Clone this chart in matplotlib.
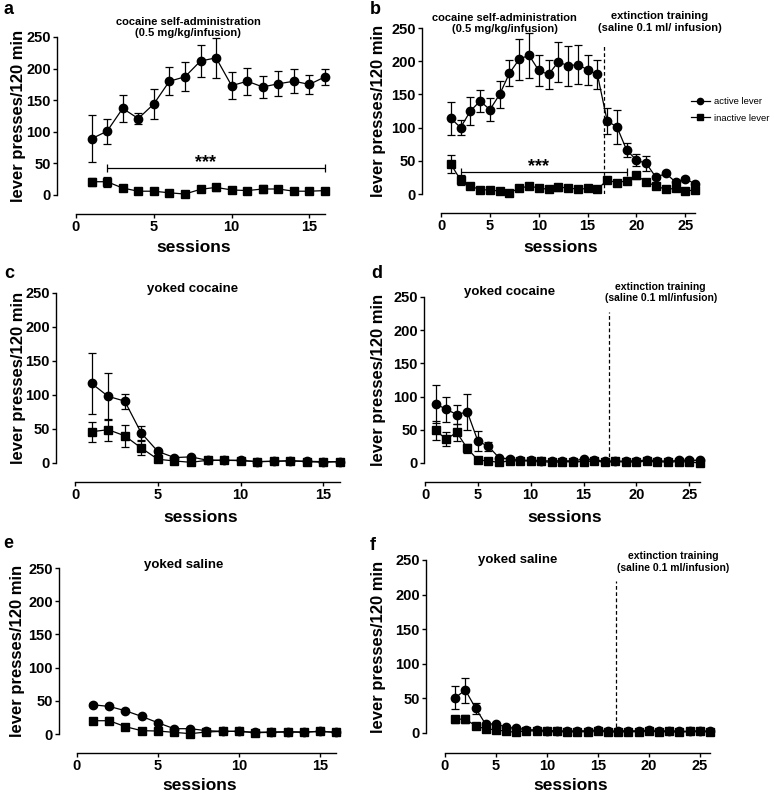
import matplotlib
matplotlib.use("Agg")
import matplotlib.pyplot as plt
from matplotlib.lines import Line2D

plt.rcParams['font.family'] = ['Liberation Sans', 'DejaVu Sans']
plt.rcParams['font.weight'] = 'bold'

# ---- data (mean, SEM) ----
sess16 = list(range(1, 17))
sess26 = list(range(1, 27))

# a: cocaine self-administration
a_act = [89, 101, 137, 121, 144, 180, 187, 212, 217, 173, 180, 171, 176, 180, 175, 187]
a_act_err = [37, 20, 21, 9, 24, 22, 23, 26, 32, 21, 21, 18, 20, 19, 15, 13]
a_inact = [21, 21, 11, 6, 6, 3.5, 1.5, 9, 12, 8, 7, 9.5, 9.5, 6, 6, 7]
a_inact_err = [6, 8, 2, 1, 1, 1, 1, 2, 5, 3, 1, 6, 4, 1, 1, 1]

# b: self-administration + extinction
b_act = [114, 100, 125, 140, 127, 150, 182, 203, 209, 186, 180, 199, 193, 195, 187, 180,
         110, 101, 66, 51, 46, 25, 31, 18, 23, 15]
b_act_err = [25, 11, 21, 16, 17, 20, 20, 31, 34, 24, 22, 30, 30, 29, 23, 22,
             19, 25, 11, 9, 11, 2, 2, 2, 2, 2]
b_inact = [45, 21, 12, 6.5, 6, 4.5, 2, 8.5, 12, 9, 7, 10, 9.5, 7, 8.5, 7,
           21, 17, 20, 28, 18, 12, 7, 8.5, 4, 6.5]
b_inact_err = [14, 7, 2, 1, 1, 1, 1, 2, 4, 2, 1, 5, 3, 1, 2, 1,
               2, 2, 2, 5, 3, 1, 1, 1, 1, 1]

# c: yoked cocaine
c_act = [117, 98, 91, 44, 17, 8, 9, 4, 4, 4, 2, 2.5, 3.5, 2.5, 2, 2]
c_act_err = [45, 35, 11, 10, 2, 1, 1, 1, 1, 1, 1, 1, 1, 1, 1, 1]
c_inact = [46, 49, 40, 22, 5.5, 3, 1, 4, 4, 3.5, 2, 2.5, 3, 2, 1, 2]
c_inact_err = [15, 16, 16, 10, 1, 1, 1, 1, 1, 1, 1, 1, 1, 1, 1, 1]

# d: yoked cocaine + extinction
d_act = [89, 81, 73, 77, 33, 25, 8, 6, 4, 4, 3.5, 3, 3.5, 3, 6, 5,
         2.5, 3, 2.5, 3.5, 4, 3.5, 2.5, 4, 4, 4]
d_act_err = [29, 19, 14, 27, 15, 7, 1, 1, 1, 1, 1, 1, 1, 1, 1, 1,
             1, 1, 1, 1, 1, 1, 1, 1, 1, 1]
d_inact = [49, 36, 46, 22, 4.5, 3, 1, 3, 3.5, 3, 2.5, 1, 2, 2, 2, 3,
           1.5, 2.5, 1.5, 2, 2.5, 2, 1.5, 2, 1.5, 0]
d_inact_err = [14, 11, 13, 7, 1, 1, 1, 1, 1, 1, 1, 1, 1, 1, 1, 1,
               1, 1, 1, 1, 1, 1, 1, 1, 1, 1]

# e: yoked saline
e_act = [44, 41.5, 35, 26.5, 17, 8, 8, 5, 4, 4, 2.5, 3, 3.5, 3, 4, 2.5]
e_act_err = [2, 2, 2, 2, 1, 1, 1, 1, 1, 1, 1, 1, 1, 1, 1, 1]
e_inact = [20, 20, 11, 5, 4.5, 2.5, 0.5, 3, 4, 4, 2, 2.5, 3, 2.5, 4, 2.5]
e_inact_err = [3, 5, 2, 1, 1, 1, 1, 1, 1, 1, 1, 1, 1, 1, 1, 1]

# f: yoked saline + extinction
f_act = [51, 62, 36, 12.5, 13.5, 8, 7, 5, 4.3, 3.4, 3.4, 2.4, 3.4, 3, 4.3, 2.4,
         3, 3.4, 3, 3.8, 2.4, 3.4, 2.4, 2.4, 3, 2.4]
f_act_err = [17, 18, 8, 2, 1, 1, 1, 1, 1, 1, 1, 1, 1, 1, 1, 1,
             1, 1, 1, 1, 1, 1, 1, 1, 1, 1]
f_inact = [20, 20, 10.5, 5.8, 4.8, 2.4, 1, 3.4, 3, 2.4, 2.4, 2, 2, 2, 3.4, 1.4,
           2, 2, 2, 3, 2, 2.4, 1, 2.4, 2.4, 2]
f_inact_err = [5, 6, 2, 1, 1, 1, 1, 1, 1, 1, 1, 1, 1, 1, 1, 1,
               1, 1, 1, 1, 1, 1, 1, 1, 1, 1]

W, H = 774, 796
fig = plt.figure(figsize=(W / 100, H / 100), dpi=100)


def make_axes(L, R, T, B, xlim, xmax, gap, ylab_x, xlab_y):
    # box given in pixels, origin top-left
    ax = fig.add_axes([L / W, 1 - B / H, (R - L) / W, (B - T) / H])
    ax.set_xlim(*xlim)
    ax.set_ylim(0, 250)
    for s in ['top', 'right']:
        ax.spines[s].set_visible(False)
    ax.spines['left'].set_bounds(0, 250)
    ax.spines['bottom'].set_position(('outward', gap * 0.72))
    ax.spines['bottom'].set_bounds(0, xmax)
    for s in ['left', 'bottom']:
        ax.spines[s].set_linewidth(1.0)
    ax.set_yticks([0, 50, 100, 150, 200, 250])
    ax.set_xticks(list(range(0, xmax + 1, 5)))
    ax.tick_params(labelsize=10.5, width=1.0, length=3, pad=1.5)
    plt.setp(ax.get_xticklabels() + ax.get_yticklabels(), fontweight='bold')
    ax.set_ylabel('lever presses/120 min', fontsize=12, fontweight='bold', va='center')
    ax.set_xlabel('sessions', fontsize=12.5, fontweight='bold', va='center')
    ax.yaxis.set_label_coords((ylab_x - L) / (R - L), 0.5)
    ax.xaxis.set_label_coords(0.5, -(xlab_y - B) / (B - T))
    return ax


def draw(ax, x, act, act_err, inact, inact_err):
    kw = dict(color='black', lw=0.9, elinewidth=0.9, capsize=3, capthick=0.9,
              clip_on=False)
    ax.errorbar(x, inact, yerr=inact_err, fmt='-s', ms=5.5, **kw)
    ax.errorbar(x, act, yerr=act_err, fmt='-o', ms=6, **kw)


def sig_bracket(ax, x0, x1, y, xt):
    ax.hlines(y, x0, x1, color='black', lw=0.9)
    ax.vlines([x0, x1], y - 6, y + 6, color='black', lw=0.9)
    ax.text(xt, y - 5, '***', ha='center', va='bottom', fontsize=13,
            fontweight='bold')


def ext_line(ax, x, top):
    ax.vlines(x, 0, top, color='black', lw=0.9, linestyles=(0, (3, 2)))


# panel boxes (pixels): L, R, T, B, xlim, last session, x-axis gap
boxes = {
    'a': (57, 330, 37, 195, (-1.22, 16.32), 16, 19),
    'b': (422, 700, 28, 194, (-1.95, 26.5), 26, 19),
    'c': (56, 345, 293, 463, (-1.15, 16.3), 16, 19),
    'd': (424, 705, 297, 463, (-0.1, 26.5), 26, 19),
    'e': (59, 341, 568, 734, (-1.1, 16.3), 16, 19),
    'f': (426, 715, 560, 733, (-1.86, 26.5), 26, 20),
}
letter_pos = {'a': (9, 10), 'b': (375, 10), 'c': (9, 274), 'd': (377, 274),
              'e': (8, 544), 'f': (373, 545)}
xlab_y = {'a': 247, 'b': 247, 'c': 518, 'd': 518, 'e': 786, 'f': 786}

axes = {}
for k, (L, R, T, B, xl, xm, gap) in boxes.items():
    ylx = 18 if L < 300 else 378
    axes[k] = make_axes(L, R, T, B, xl, xm, gap, ylx, xlab_y[k])
    fig.text(letter_pos[k][0] / W, 1 - letter_pos[k][1] / H, k,
             fontsize=13, fontweight='bold', ha='center', va='center')

draw(axes['a'], sess16, a_act, a_act_err, a_inact, a_inact_err)
draw(axes['b'], sess26, b_act, b_act_err, b_inact, b_inact_err)
draw(axes['c'], sess16, c_act, c_act_err, c_inact, c_inact_err)
draw(axes['d'], sess26, d_act, d_act_err, d_inact, d_inact_err)
draw(axes['e'], sess16, e_act, e_act_err, e_inact, e_inact_err)
draw(axes['f'], sess26, f_act, f_act_err, f_inact, f_inact_err)

sig_bracket(axes['a'], 2, 16, 43, 8.3)
sig_bracket(axes['b'], 2, 19, 33, 10)

ext_line(axes['b'], 16.7, 223)
ext_line(axes['d'], 17.4, 227)
ext_line(axes['f'], 16.8, 219)

sa_txt = 'cocaine self-administration\n(0.5 mg/kg/infusion)'
axes['a'].text(7.2, 265, sa_txt, ha='center', va='center', fontsize=8, fontweight='bold')
axes['b'].text(6.5, 257, sa_txt, ha='center', va='center', fontsize=8, fontweight='bold')
axes['b'].text(22.4, 259, 'extinction training\n(saline 0.1 ml/ infusion)',
               ha='center', va='center', fontsize=8, fontweight='bold')
axes['c'].text(7.1, 256, 'yoked cocaine', ha='center', va='center', fontsize=9.5, fontweight='bold')
axes['d'].text(8.0, 257, 'yoked cocaine', ha='center', va='center', fontsize=9.5, fontweight='bold')
axes['d'].text(22.3, 257, 'extinction training\n(saline 0.1 ml/infusion)',
               ha='center', va='center', fontsize=7.5, fontweight='bold')
axes['e'].text(6.6, 255, 'yoked saline', ha='center', va='center', fontsize=9.5, fontweight='bold')
axes['f'].text(7.1, 250, 'yoked saline', ha='center', va='center', fontsize=9.5, fontweight='bold')
axes['f'].text(22.4, 247, 'extinction training\n(saline 0.1 ml/infusion)',
               ha='center', va='center', fontsize=7.5, fontweight='bold')

handles = [Line2D([], [], color='black', marker='o', ms=4.5, lw=0.9),
           Line2D([], [], color='black', marker='s', ms=4.5, lw=0.9)]
fig.legend(handles, ['active lever', 'inactive lever'], loc='upper left',
           bbox_to_anchor=(691 / W, 1 - 97 / H), frameon=False,
           prop={'size': 6.8, 'weight': 'normal'}, handlelength=2.0,
           handletextpad=0.4, labelspacing=0.8, borderpad=0, borderaxespad=0)

fig.savefig('out.png', dpi=100)
